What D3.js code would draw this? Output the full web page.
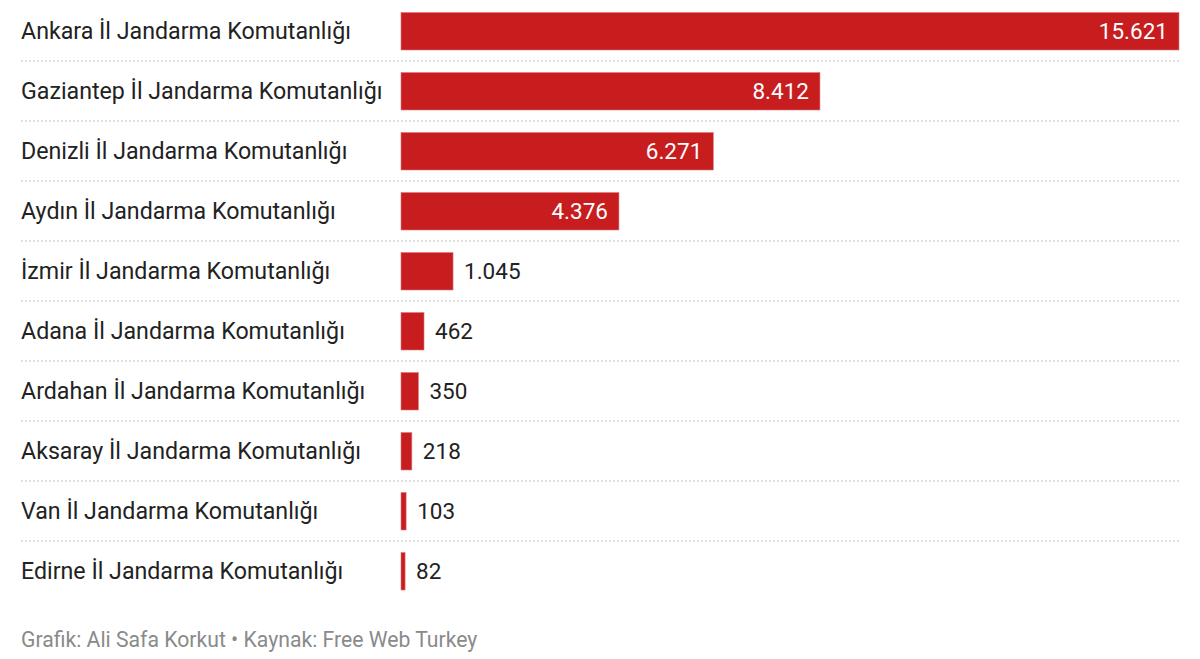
<!DOCTYPE html>
<html>
<head>
<meta charset="utf-8">
<script src="https://cdn.jsdelivr.net/npm/d3@7"></script>
<style>
  body{margin:0;background:#fff;font-family:Roboto,"Noto Sans",sans-serif;}
  svg text{font-family:Roboto,"Noto Sans",sans-serif;}
</style>
</head>
<body>
<script>
var komutanliklar=['Ankara İl Jandarma Komutanlığı','Gaziantep İl Jandarma Komutanlığı','Denizli İl Jandarma Komutanlığı','Aydın İl Jandarma Komutanlığı','İzmir İl Jandarma Komutanlığı','Adana İl Jandarma Komutanlığı','Ardahan İl Jandarma Komutanlığı','Aksaray İl Jandarma Komutanlığı','Van İl Jandarma Komutanlığı','Edirne İl Jandarma Komutanlığı'];
var degerler=[15621,8412,6271,4376,1045,462,350,218,103,82];
var kaynak='Grafik: Ali Safa Korkut • Kaynak: Free Web Turkey';

var width=1200, height=659;
var rows=komutanliklar.map(function(k,i){return {name:k,value:degerler[i]};});

var svg=d3.select('body').append('svg')
  .attr('width',width)
  .attr('height',height);

var x=d3.scaleLinear()
  .domain([0,d3.max(degerler)])
  .range([401,1179]);

var y=d3.scaleBand()
  .domain(komutanliklar)
  .range([1,601]);

var fmt=function(v){return d3.format(',')(v).replace(/,/g,'.');};

// dotted separators between rows
svg.selectAll('line.sep')
  .data(komutanliklar.slice(1))
  .enter()
  .append('line')
  .attr('class','sep')
  .attr('x1',21)
  .attr('x2',1179)
  .attr('y1',function(d){return y(d);})
  .attr('y2',function(d){return y(d);})
  .style('stroke','#d6d6d6')
  .style('stroke-width',1.5)
  .style('stroke-dasharray','2,2');

var row=svg.selectAll('g.row')
  .data(rows)
  .enter()
  .append('g')
  .attr('class','row')
  .attr('transform',function(d){return 'translate(0,'+y(d.name)+')';});

row.append('text')
  .attr('x',21)
  .attr('y',y.bandwidth()/2)
  .attr('dy','0.35em')
  .style('font-size','23.2px')
  .style('fill','#222')
  .text(function(d){return d.name;});

row.append('rect')
  .attr('x',x(0))
  .attr('y',11.5)
  .attr('width',function(d){return x(d.value)-x(0);})
  .attr('height',37.5)
  .style('fill','#c71d1f')
  .style('stroke','#e07a7a')
  .style('stroke-width',0.6);

row.append('text')
  .attr('x',function(d){
    var w=x(d.value)-x(0);
    return w>100?x(d.value)-11:x(d.value)+11;
  })
  .attr('y',y.bandwidth()/2)
  .attr('dy','0.35em')
  .attr('text-anchor',function(d){return (x(d.value)-x(0))>100?'end':'start';})
  .style('font-size','22.5px')
  .style('fill',function(d){return (x(d.value)-x(0))>100?'#fff':'#222';})
  .text(function(d){return fmt(d.value);});

svg.append('text')
  .attr('x',21)
  .attr('y',647)
  .style('font-size','21.2px')
  .style('fill','#8a8a8a')
  .text(kaynak);
</script>
</body>
</html>
